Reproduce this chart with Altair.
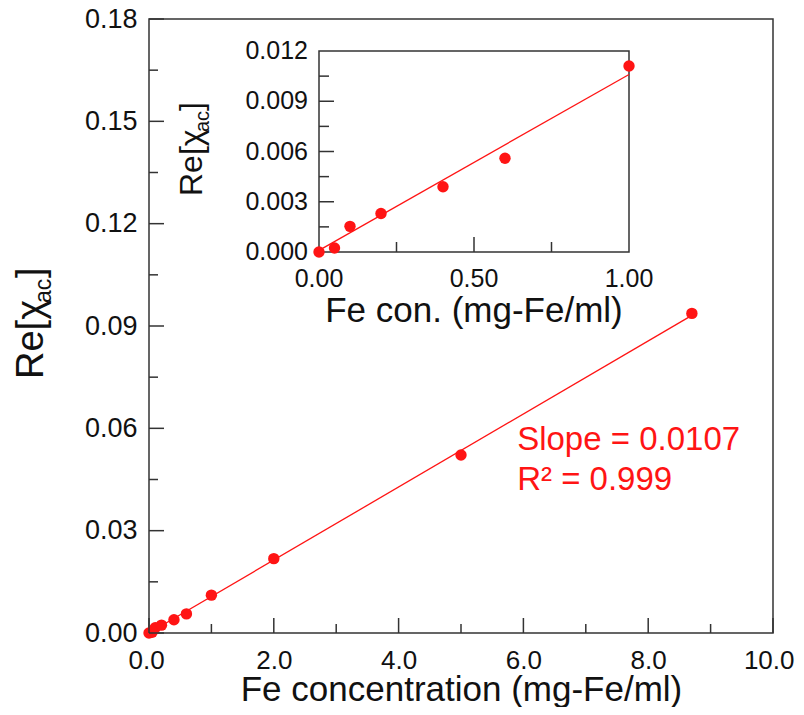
import altair as alt
import pandas as pd

# ---------------- data ----------------
conc = [0.0, 0.05, 0.1, 0.2, 0.4, 0.6, 1.0, 2.0, 5.0, 8.7]
re_chi = [0.0, 0.00024, 0.00153, 0.0023, 0.0039, 0.0056, 0.0111, 0.0218, 0.0522, 0.0937]

inset_conc = [0.0, 0.05, 0.1, 0.2, 0.4, 0.6, 1.0]
inset_re = [0.0, 0.00024, 0.00153, 0.0023, 0.0039, 0.0056, 0.0111]

slope = 0.0107
r2 = 0.999
main_fit_x = [0.0, 8.7]
main_fit_y = [0.0, 0.0931]
inset_fit_x = [0.0, 1.0]
inset_fit_y = [0.0001, 0.0106]

main_x_major = [0, 2, 4, 6, 8, 10]
main_x_minor = [1, 3, 5, 7, 9]
main_y_major = [0.0, 0.03, 0.06, 0.09, 0.12, 0.15, 0.18]
main_y_minor = [0.015, 0.045, 0.075, 0.105, 0.135, 0.165]

inset_x_major = [0.5]
inset_x_minor = [0.25, 0.75]
inset_x_label_vals = [0.0, 0.5, 1.0]
inset_x_label_text = ["0.00", "0.50", "1.00"]
inset_y_major = [0.003, 0.006, 0.009]
inset_y_minor = [0.0015, 0.0045, 0.0075, 0.0105]
inset_y_label_vals = [0.0, 0.003, 0.006, 0.009, 0.012]
inset_y_label_text = ["0.000", "0.003", "0.006", "0.009", "0.012"]

main_x_title = "Fe concentration (mg-Fe/ml)"
inset_x_title = "Fe con. (mg-Fe/ml)"

# ---------------- style ----------------
FONT = "Liberation Sans"
RED = "#ff1414"
TXT = "#111111"
FRAME = "#333333"
W, H = 624, 614

xs = alt.Scale(domain=[0, 10], nice=False, zero=False)
ys = alt.Scale(domain=[0, 0.18], nice=False, zero=False)

xaxis = alt.Axis(values=main_x_major, format=".1f", ticks=False, tickSize=0, domain=False,
                 grid=False, labelFont=FONT, labelFontSize=26, labelColor=TXT,
                 labelBaseline="alphabetic", labelPadding=35, labelFlush=True,
                 labelFlushOffset=21,
                 labelOverlap=False, title=main_x_title, titleFont=FONT, titleFontSize=35,
                 titleFontWeight="normal", titleColor=TXT, titleX=W / 2, titleY=67,
                 titleBaseline="alphabetic", titleAlign="center")
yaxis = alt.Axis(values=main_y_major, format=".2f", ticks=False, tickSize=0, domain=False,
                 grid=False, labelFont=FONT, labelFontSize=27, labelColor=TXT,
                 labelPadding=12, labelFlush=False, labelOverlap=False, title=None)


def mx(f):
    return alt.X(f"{f}:Q", scale=xs, axis=xaxis)


def my(f):
    return alt.Y(f"{f}:Q", scale=ys, axis=yaxis)


ixs = alt.Scale(domain=[0, 1], range=[170, 480], nice=False, zero=False)
iys = alt.Scale(domain=[0, 0.012], range=[233, 32], nice=False, zero=False)


def ix(f):
    return alt.X(f"{f}:Q", scale=ixs, axis=None)


def iy(f):
    return alt.Y(f"{f}:Q", scale=iys, axis=None)


one = pd.DataFrame({"a": [0]})

# ---------------- main layers ----------------
m_fit = alt.Chart(pd.DataFrame({"x": main_fit_x, "y": main_fit_y})).mark_line(
    color=RED, strokeWidth=1.3).encode(x=mx("x"), y=my("y"))
m_pts = alt.Chart(pd.DataFrame({"x": conc, "y": re_chi})).mark_point(
    filled=True, color=RED, size=130, opacity=1).encode(x=mx("x"), y=my("y"))


def xticks(vals, length, xf, yf):
    d = pd.DataFrame({"x": vals, "y0": [0] * len(vals)})
    return alt.Chart(d).mark_rule(y2Offset=-length, color=FRAME, strokeWidth=1.5).encode(
        x=xf("x"), y=yf("y0"), y2=alt.Y2("y0"))


def yticks(vals, length, xf, yf):
    d = pd.DataFrame({"y": vals, "x0": [0] * len(vals)})
    return alt.Chart(d).mark_rule(x2Offset=length, color=FRAME, strokeWidth=1.5).encode(
        y=yf("y"), x=xf("x0"), x2=alt.X2("x0"))


m_ticks = [xticks(main_x_major, 15, mx, my), xticks(main_x_minor, 9, mx, my),
           yticks(main_y_major, 15, mx, my), yticks(main_y_minor, 9, mx, my)]

ann = pd.DataFrame({"x": [5.9, 5.9], "y": [0.0536, 0.0419],
                    "t": [f"Slope = {slope}", f"R\u00b2 = {r2}"]})
m_ann = alt.Chart(ann).mark_text(align="left", baseline="alphabetic", font=FONT,
                                 fontSize=33, color=RED).encode(x=mx("x"), y=my("y"), text="t:N")


def ytitle(px, py, fs, sub_fs, w1, w2, sub_dy):
    base = dict(angle=270, align="left", baseline="alphabetic", font=FONT, color=TXT)
    p1 = alt.Chart(one).mark_text(fontSize=fs, dx=0, **base).encode(
        x=alt.value(px), y=alt.value(py), text=alt.value("Re[\u03c7"))
    p2 = alt.Chart(one).mark_text(fontSize=sub_fs, dx=w1, dy=sub_dy, **base).encode(
        x=alt.value(px), y=alt.value(py), text=alt.value("ac"))
    p3 = alt.Chart(one).mark_text(fontSize=fs, dx=w1 + w2, **base).encode(
        x=alt.value(px), y=alt.value(py), text=alt.value("]"))
    return [p1, p2, p3]


m_ytitle = ytitle(-106, 360, 38, 23, 76, 25, 8)

main = alt.layer(m_fit, m_pts, *m_ticks, m_ann, *m_ytitle)

# ---------------- inset layers ----------------
i_frame = alt.Chart(pd.DataFrame({"x0": [0], "x1": [1], "y0": [0], "y1": [0.012]})).mark_rect(
    fillOpacity=0, stroke=FRAME, strokeWidth=1.5).encode(
    x=ix("x0"), x2=alt.X2("x1"), y=iy("y0"), y2=alt.Y2("y1"))
i_fit = alt.Chart(pd.DataFrame({"x": inset_fit_x, "y": inset_fit_y})).mark_line(
    color=RED, strokeWidth=1.3).encode(x=ix("x"), y=iy("y"))
i_pts = alt.Chart(pd.DataFrame({"x": inset_conc, "y": inset_re})).mark_point(
    filled=True, color=RED, size=130, opacity=1).encode(x=ix("x"), y=iy("y"))
i_ticks = [xticks(inset_x_major, 15, ix, iy), xticks(inset_x_minor, 10, ix, iy),
           yticks(inset_y_major, 15, ix, iy), yticks(inset_y_minor, 10, ix, iy)]
i_xlab = alt.Chart(pd.DataFrame({"x": inset_x_label_vals, "y0": [0] * 3,
                                 "t": inset_x_label_text})).mark_text(
    align="center", baseline="alphabetic", dy=35, font=FONT, fontSize=25, color=TXT).encode(
    x=ix("x"), y=iy("y0"), text="t:N")
i_ylab = alt.Chart(pd.DataFrame({"y": inset_y_label_vals, "x0": [0] * 5,
                                 "t": inset_y_label_text})).mark_text(
    align="right", baseline="middle", dx=-11, font=FONT, fontSize=25, color=TXT).encode(
    x=ix("x0"), y=iy("y"), text="t:N")
i_xtitle = alt.Chart(pd.DataFrame({"x": [0.5], "y0": [0], "t": [inset_x_title]})).mark_text(
    align="center", baseline="alphabetic", dy=70, font=FONT, fontSize=35, color=TXT).encode(
    x=ix("x"), y=iy("y0"), text="t:N")
i_ytitle = ytitle(53, 177, 32, 20, 64, 21, 7)

inset = alt.layer(i_frame, i_fit, i_pts, *i_ticks, i_xlab, i_ylab, i_xtitle, *i_ytitle)

chart = alt.layer(main, inset).resolve_scale(x="independent", y="independent").properties(
    width=W, height=H,
    autosize=alt.AutoSizeParams(type="none"),
    padding={"left": 141, "top": 11, "right": 23, "bottom": 74},
).configure_view(stroke=FRAME, strokeWidth=1.5)

chart.save("out.html", embed_options={"renderer": "svg", "actions": False})
